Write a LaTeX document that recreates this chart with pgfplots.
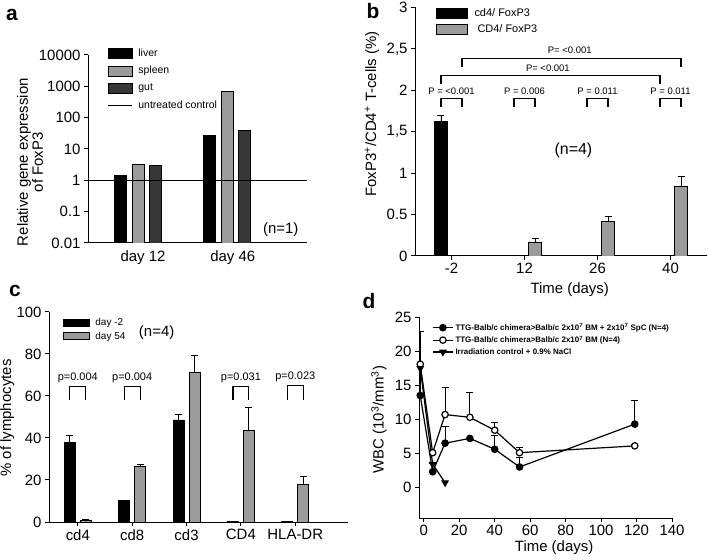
\documentclass[border=0pt]{standalone}
\usepackage{fontspec}
\setmainfont{Liberation Sans}
\usepackage{pgfplots}
\pgfplotsset{compat=1.18}
\definecolor{bargrey}{RGB}{155,155,155}
\definecolor{bardark}{RGB}{55,55,55}
\newcommand\sz[1]{\fontsize{#1}{#1}\selectfont}

\pgfplotsset{
  panel/.style={
    scale only axis, anchor=south west,
    axis x line*=bottom, axis y line*=left,
    axis line style={line width=1bp, -},
    tick align=outside, major tick length=4bp,
    tick style={line width=1bp, black},
    tick label style={font=\sz{15}},
    label style={font=\sz{15}},
    /pgf/number format/assume math mode=true,
    legend cell align=left,
  },
  errb/.style={/pgfplots/error bars/y dir=plus, /pgfplots/error bars/y explicit,
    /pgfplots/error bars/error bar style={line width=0.8bp, black},
    /pgfplots/error bars/error mark options={rotate=90, mark size=3.5bp, line width=0.8bp, black}},
  boxleg/.style 2 args={legend image code/.code={\draw[##1] (0bp,-#2) rectangle (#1,#2);}},
  lineleg/.style={legend image code/.code={\draw[##1] (0bp,0bp) -- (24bp,0bp);}},
  markleg/.style={legend image code/.code={\draw[##1] (0bp,0bp) -- (20bp,0bp);
    \draw[##1, only marks] plot coordinates {(10bp,0bp)};}},
}
% bracket between two bars: x left, x right, leg bottom, top
\newcommand\pbracket[4]{%
  \draw[line width=1.2bp] (axis cs:#1,#3) |- (axis cs:#2,#4) -- (axis cs:#2,#3);}

\begin{document}
\begin{tikzpicture}
\useasboundingbox (0,0) rectangle (708bp,560bp);

% ---------- a
\begin{axis}[panel, at={(88bp,317bp)},
  width=219bp, height=188bp,
  ymode=log, ymin=0.01, ymax=10000, log origin y=infty,
  ytick={0.01,0.1,1,10,100,1000,10000},
  yticklabels={0.01,0.1,1,10,100,1000,10000},
  minor tick length=0pt,
  xmin=-0.56, xmax=1.89,
  xtick={0.056,1.06}, xticklabels={day 12, day 46},
  x tick style={draw=none},
  ylabel={Relative gene expression\\of FoxP3},
  ylabel style={align=center, at={(rel axis cs:-0.265,0.43)}, anchor=center},
  legend style={draw=none, fill=none, font=\sz{10.5}, at={(rel axis cs:0.075,1.055)},
    anchor=north west, row sep=4.5bp, column sep=4bp},
]
\addplot[ybar, bar width=12bp, bar shift=-18bp, fill=black, draw=black, line width=0.8bp,
  boxleg={24bp}{5bp}]
  coordinates {(0,1.45) (1,27)};
\addlegendentry{liver}
\addplot[ybar, bar width=12bp, bar shift=0bp, fill=bargrey, draw=black, line width=0.8bp,
  boxleg={24bp}{5bp}]
  coordinates {(0,3.2) (1,680)};
\addlegendentry{spleen}
\addplot[ybar, bar width=12bp, bar shift=17bp, fill=bardark, draw=black, line width=0.8bp,
  boxleg={24bp}{5bp}]
  coordinates {(0,3.0) (1,40)};
\addlegendentry{gut}
\addplot[black, line width=0.8bp, lineleg]
  coordinates {(-0.56,1) (1.89,1)};
\addlegendentry{untreated control}
\node[font=\sz{15}] at (rel axis cs:0.88,0.07) {(n=1)};
\end{axis}

% ---------- b  (bars of a day sit at day-0.144 and day+0.144)
\begin{axis}[panel, at={(415bp,304bp)},
  width=292bp, height=248.7bp,
  xmin=-0.5, xmax=3.5, ymin=0, ymax=3,
  xtick={0,1,2,3}, xticklabels={-2,12,26,40},
  ytick={0,0.5,1,1.5,2,2.5,3},
  yticklabels={0,0.5,1,{1,5},2,{2,5},3},
  xlabel={Time (days)},
  xlabel style={at={(rel axis cs:0.53,-0.137)}, anchor=center},
  ylabel={FoxP3\textsuperscript{+}/CD4\textsuperscript{+} T-cells (\%)},
  ylabel style={at={(rel axis cs:-0.147,0.571)}, anchor=center},
  legend style={draw=none, fill=none, font=\sz{11}, at={(rel axis cs:0.06,1.01)},
    anchor=north west, row sep=2bp, column sep=5bp},
]
\addplot[ybar, bar width=13.5bp, bar shift=0bp, fill=black, draw=black, line width=0.8bp, errb,
  boxleg={31bp}{5bp}]
  coordinates {(-0.144,1.62) +- (0,0.07) (0.856,0.01) +- (0,0) (1.856,0.01) +- (0,0) (2.856,0.01) +- (0,0)};
\addlegendentry{cd4/ FoxP3}
\addplot[ybar, bar width=13.5bp, bar shift=0bp, fill=bargrey, draw=black, line width=0.8bp, errb,
  boxleg={31bp}{5bp}]
  coordinates {(0.144,0.01) +- (0,0) (1.144,0.17) +- (0,0.04) (2.144,0.42) +- (0,0.06) (3.144,0.84) +- (0,0.12)};
\addlegendentry{\ CD4/ FoxP3}
\pbracket{-0.144}{0.144}{1.80}{1.90}
\pbracket{0.856}{1.144}{1.80}{1.90}
\pbracket{1.856}{2.144}{1.80}{1.90}
\pbracket{2.856}{3.144}{1.80}{1.90}
\node[font=\sz{9.5}] at (axis cs:0,1.99) {P = <0.001};
\node[font=\sz{9.5}] at (axis cs:1,1.99) {P = 0.006};
\node[font=\sz{9.5}] at (axis cs:2,1.99) {P = 0.011};
\node[font=\sz{9.5}] at (axis cs:3,1.99) {P = 0.011};
\pbracket{-0.144}{2.856}{2.07}{2.18}
\node[font=\sz{9.5}] at (axis cs:1.32,2.27) {P= <0.001};
\pbracket{0.144}{3.144}{2.28}{2.385}
\node[font=\sz{9.5}] at (axis cs:1.62,2.48) {P= <0.001};
\node[font=\sz{16}] at (axis cs:1.67,1.28) {(n=4)};
\end{axis}

% ---------- c  (bars of a group sit at k-0.147 and k+0.147)
\begin{axis}[panel, at={(49bp,38bp)},
  width=299bp, height=210bp,
  xmin=-0.53, xmax=4.97, ymin=0, ymax=100,
  xtick={0,1,2,3,4}, xticklabels={cd4,cd8,cd3,CD4,HLA-DR},
  ytick={0,20,40,60,80,100},
  ylabel={\% of lymphocytes},
  ylabel style={at={(rel axis cs:-0.14,0.495)}, anchor=center},
  legend style={draw=none, fill=none, font=\sz{10}, at={(rel axis cs:0.035,0.99)},
    anchor=north west, row sep=1bp, column sep=4bp},
]
\addplot[ybar, bar width=11bp, bar shift=0bp, fill=black, draw=black, line width=0.8bp, errb,
  boxleg={26bp}{3.5bp}]
  coordinates {(-0.147,38) +- (0,3.4) (0.853,10.2) +- (0,0.3) (1.853,48.6) +- (0,2.8)
  (2.853,0.2) +- (0,0) (3.853,0.2) +- (0,0)};
\addlegendentry{day -2}
\addplot[ybar, bar width=11bp, bar shift=0bp, fill=bargrey, draw=black, line width=0.8bp, errb,
  boxleg={26bp}{3.5bp}]
  coordinates {(0.147,0.8) +- (0,0.2) (1.147,26.5) +- (0,1.1) (2.147,71) +- (0,8.2)
  (3.147,43.5) +- (0,11.1) (4.147,17.9) +- (0,3.8)};
\addlegendentry{day 54}
\pbracket{-0.147}{0.147}{58.3}{64.6}
\pbracket{0.853}{1.147}{58.3}{64.6}
\pbracket{2.853}{3.147}{58.3}{64.4}
\pbracket{3.853}{4.147}{58.3}{65}
\node[font=\sz{11}] at (axis cs:0,68.8) {p=0.004};
\node[font=\sz{11}] at (axis cs:1,68.8) {p=0.004};
\node[font=\sz{11}] at (axis cs:3,68.6) {p=0.031};
\node[font=\sz{11}] at (axis cs:4,69.2) {p=0.023};
\node[font=\sz{15}] at (rel axis cs:0.36,0.9) {(n=4)};
\end{axis}

% ---------- d
\begin{axis}[panel, at={(419bp,42bp)},
  width=253bp, height=200.7bp,
  xmin=-2.7, xmax=140, ymin=-4.5, ymax=25,
  xtick={0,20,...,140}, ytick={0,5,...,25},
  xlabel={Time (days)},
  xlabel style={at={(rel axis cs:0.534,-0.15)}, anchor=center},
  ylabel={WBC (10\textsuperscript{3}/mm\textsuperscript{3})},
  ylabel style={at={(rel axis cs:-0.158,0.49)}, anchor=center},
  legend style={draw=none, fill=none, font=\bfseries\sz{8}, at={(rel axis cs:0.04,0.99)},
    anchor=north west, row sep=0bp},
]
\addplot[black, line width=1.2bp, mark=*, mark size=3.2bp, errb, markleg]
  coordinates {(-2,13.5) +- (0,9.5) (5,2.3) +- (0,1.2) (12,6.5) +- (0,2.5) (26,7.2) +- (0,0)
  (40,5.6) +- (0,2.1) (54,3.0) +- (0,1.4) (119,9.3) +- (0,3.5)};
\addlegendentry{TTG-Balb/c chimera>Balb/c 2x10\textsuperscript{7} BM + 2x10\textsuperscript{7} SpC (N=4)}
\addplot[black, line width=1.2bp, mark=*, mark size=3.2bp, mark options={fill=white}, errb, markleg]
  coordinates {(-2,18.1) +- (0,0) (5,5.1) +- (0,0) (12,10.7) +- (0,4.0) (26,10.3) +- (0,3.7)
  (40,8.4) +- (0,1.2) (54,5.1) +- (0,0.8) (119,6.1) +- (0,0.2)};
\addlegendentry{TTG-Balb/c chimera>Balb/c 2x10\textsuperscript{7} BM (N=4)}
\addplot[black, line width=1.2bp, mark=triangle*, mark size=3.4bp, mark options={rotate=180}, markleg]
  coordinates {(-2,17.5) (5,3.4) (12,0.7)};
\addlegendentry{Irradiation control + 0.9\% NaCl}
\end{axis}

\node[font=\bfseries\sz{21}] at (12bp,545bp) {a};
\node[font=\bfseries\sz{21}] at (373bp,549bp) {b};
\node[font=\bfseries\sz{21}] at (15bp,269bp) {c};
\node[font=\bfseries\sz{21}] at (369bp,259bp) {d};
\end{tikzpicture}
\end{document}
